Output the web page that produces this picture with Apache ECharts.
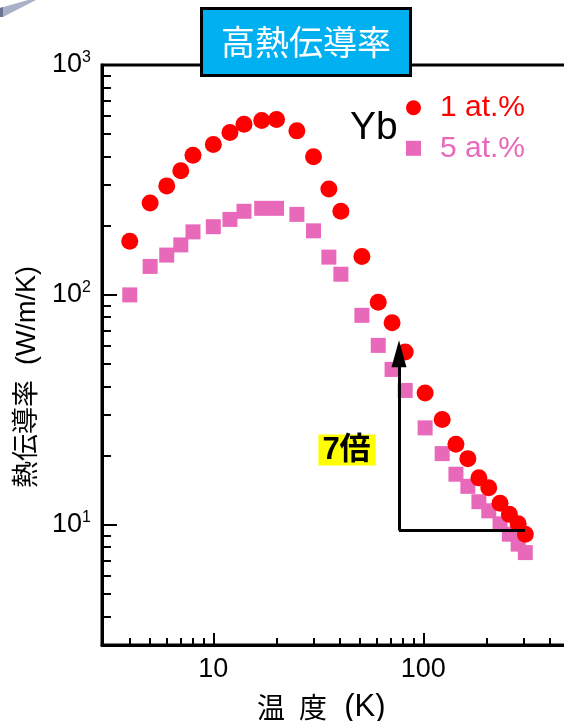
<!DOCTYPE html>
<html><head><meta charset="utf-8">
<script src="https://cdn.jsdelivr.net/npm/echarts@6/dist/echarts.min.js"></script>
<style>html,body{margin:0;padding:0;background:#fff}#c{width:564px;height:721px}</style>
</head><body><div id="c"></div>
<script>
// Temperature (K)
const temps = [4, 5, 6, 7, 8, 10, 12, 14, 17, 20, 25, 30, 35.5, 40.5, 51, 61, 71, 82, 102, 123, 143, 163, 184, 205, 232, 257, 283, 306];
// Thermal conductivity (W/m/K), Yb 1 at.%
const kappa1 = [171, 251, 298, 347, 405, 451, 509, 553, 574, 580, 517, 399, 289, 231, 147, 93, 75.7, 56.5, 37.4, 28.7, 22.4, 19.4, 16.0, 14.5, 12.4, 11.1, 10.1, 9.1];
// Thermal conductivity (W/m/K), Yb 5 at.%
const kappa5 = [100, 133, 149, 165, 188, 198, 213, 231, 238, 238, 224, 190, 146, 123, 81.5, 60.3, 47.4, 38.4, 26.4, 20.4, 16.6, 14.7, 12.6, 11.5, 10.1, 9.1, 8.24, 7.57];
const seriesNames = ['1 at.%', '5 at.%'];
const xMajorTicks = [10, 100];
const xMinorTicks = [4, 5, 6, 7, 8, 9, 20, 30, 40, 50, 60, 70, 80, 90, 200, 300, 400, 500];
const yMajorTicks = [10, 100, 1000];
const yMinorTicks = [4, 5, 6, 7, 8, 9, 20, 30, 40, 50, 60, 70, 80, 90, 200, 300, 400, 500, 600, 700, 800, 900];
// Slope guide (7x) endpoints in data units
const guideX = [76.6, 305];
const guideY = [9.44, 55.5];

const RED = '#FF0000', PINK = '#E868BA';
const LATIN = "'Liberation Sans', Arial, 'Noto Sans CJK JP', sans-serif";
const CJK = "'Noto Sans CJK JP', sans-serif";
const X_MIN = 2.95, X_MAX = 600, Y_MIN = 3, Y_MAX = 1000;

const chart = echarts.init(document.getElementById('c'), null, {renderer: 'canvas'});

const baseAxis = {
  type: 'log', logBase: 10, splitLine: {show: false}, minorTick: {show: false}, minorSplitLine: {show: false}
};

chart.setOption({
  animation: false,
  backgroundColor: '#fff',
  title: {
    text: '高熱伝導率', left: 201, top: 8, padding: [15, 20, 15, 20],
    backgroundColor: '#00B0F0', borderColor: '#000', borderWidth: 3,
    textStyle: {color: '#fff', fontSize: 34, fontWeight: 'normal', fontFamily: CJK, lineHeight: 38}
  },
  legend: {
    orient: 'vertical', left: 406, top: 92.7, padding: 0, itemWidth: 15, itemHeight: 15, itemGap: 10.6,
    selectedMode: false,
    data: [
      {name: seriesNames[0], icon: 'circle', textStyle: {color: RED}},
      {name: seriesNames[1], icon: 'rect', textStyle: {color: PINK}}
    ],
    textStyle: {fontSize: 30, fontFamily: LATIN, lineHeight: 30, padding: [0, 0, 0, 14]}
  },
  grid: {left: 102, top: 65, right: -22.7, bottom: 76, show: true, borderColor: '#000', borderWidth: 3,
    backgroundColor: 'transparent', containLabel: false, outerBoundsMode: 'none'},
  xAxis: [
    Object.assign({}, baseAxis, {
      min: X_MIN, max: X_MAX, position: 'bottom',
      axisLine: {show: true, lineStyle: {color: '#000', width: 3}},
      axisTick: {show: true, inside: true, length: 12, lineStyle: {color: '#000', width: 2}, customValues: xMajorTicks},
      axisLabel: {show: true, customValues: xMajorTicks, fontSize: 27, color: '#000', margin: 11, fontFamily: LATIN,
        formatter: v => String(Math.round(v))},
      name: '{c|温\u2002度}{l|  (K)}', nameLocation: 'middle', nameGap: 46,
      nameTextStyle: {fontSize: 28, color: '#000', fontFamily: LATIN, padding: [0, 46, 0, 0],
        rich: {
          c: {fontSize: 28, fontFamily: CJK, color: '#000', lineHeight: 32},
          l: {fontSize: 31, fontFamily: LATIN, color: '#000', lineHeight: 32}
        }}
    }),
    Object.assign({}, baseAxis, {
      min: X_MIN, max: X_MAX, position: 'bottom',
      axisLine: {show: false}, axisLabel: {show: false},
      axisTick: {show: true, inside: true, length: 7, lineStyle: {color: '#000', width: 2}, customValues: xMinorTicks}
    })
  ],
  yAxis: [
    Object.assign({}, baseAxis, {
      min: Y_MIN, max: Y_MAX, position: 'left',
      axisLine: {show: true, lineStyle: {color: '#000', width: 3}},
      axisTick: {show: true, inside: true, length: 15, lineStyle: {color: '#000', width: 2}, customValues: yMajorTicks},
      axisLabel: {show: true, customValues: yMajorTicks, margin: 11, color: '#000',
        formatter: v => '{a|10}{b|' + Math.round(Math.log10(v)) + '}',
        rich: {
          a: {fontSize: 27, fontFamily: LATIN, color: '#000', lineHeight: 30},
          b: {fontSize: 16, fontFamily: LATIN, color: '#000', lineHeight: 22, verticalAlign: 'top'}
        }},
      name: '熱伝導率  (W/m/K)', nameLocation: 'middle', nameGap: 59, nameRotate: 90,
      nameTextStyle: {fontSize: 27, color: '#000', fontFamily: LATIN, padding: [0, 44, 0, 0]}
    }),
    Object.assign({}, baseAxis, {
      min: Y_MIN, max: Y_MAX, position: 'left',
      axisLine: {show: false}, axisLabel: {show: false},
      axisTick: {show: true, inside: true, length: 9, lineStyle: {color: '#000', width: 2}, customValues: yMinorTicks}
    })
  ],
  series: [
    {
      name: seriesNames[1], type: 'scatter', xAxisIndex: 0, yAxisIndex: 0,
      symbol: 'rect', symbolSize: 15, itemStyle: {color: PINK, opacity: 1},
      data: temps.map((t, i) => [t, kappa5[i]]), z: 2
    },
    {
      name: seriesNames[0], type: 'scatter', xAxisIndex: 0, yAxisIndex: 0,
      symbol: 'circle', symbolSize: 17, itemStyle: {color: RED, opacity: 1},
      data: temps.map((t, i) => [t, kappa1[i]]), z: 3,
      markLine: {
        silent: true, animation: false, label: {show: false}, emphasis: {disabled: true},
        lineStyle: {color: '#000', width: 3, type: 'solid'},
        data: [
          [{coord: [guideX[0], guideY[0]], symbol: 'none'}, {coord: [guideX[0], guideY[1]], symbol: 'triangle', symbolSize: [15, 27]}],
          [{coord: [guideX[0], guideY[0]], symbol: 'none'}, {coord: [guideX[1], guideY[0]], symbol: 'none'}]
        ]
      }
    }
  ],
  graphic: [
    {type: 'polygon', shape: {points: [[0, 8], [28, 0], [36, 0], [3, 17], [0, 17]]}, style: {fill: '#aab0c8'}},
    {type: 'polygon', shape: {points: [[0, 8], [3, 7], [3, 17], [0, 17]]}, style: {fill: '#6c7290'}},
    {type: 'text', x: 350, y: 128, style: {text: 'Yb', fontSize: 39, fontFamily: LATIN, fill: '#000', align: 'left', verticalAlign: 'middle'}},
    {type: 'text', x: 347, y: 450, style: {text: '7倍', fontSize: 31, fontWeight: 'bold', fontFamily: LATIN, fill: '#000',
      align: 'center', verticalAlign: 'middle', backgroundColor: '#FFFF00', padding: [0, 5, 0, 4]}}
  ]
});
</script></body></html>
